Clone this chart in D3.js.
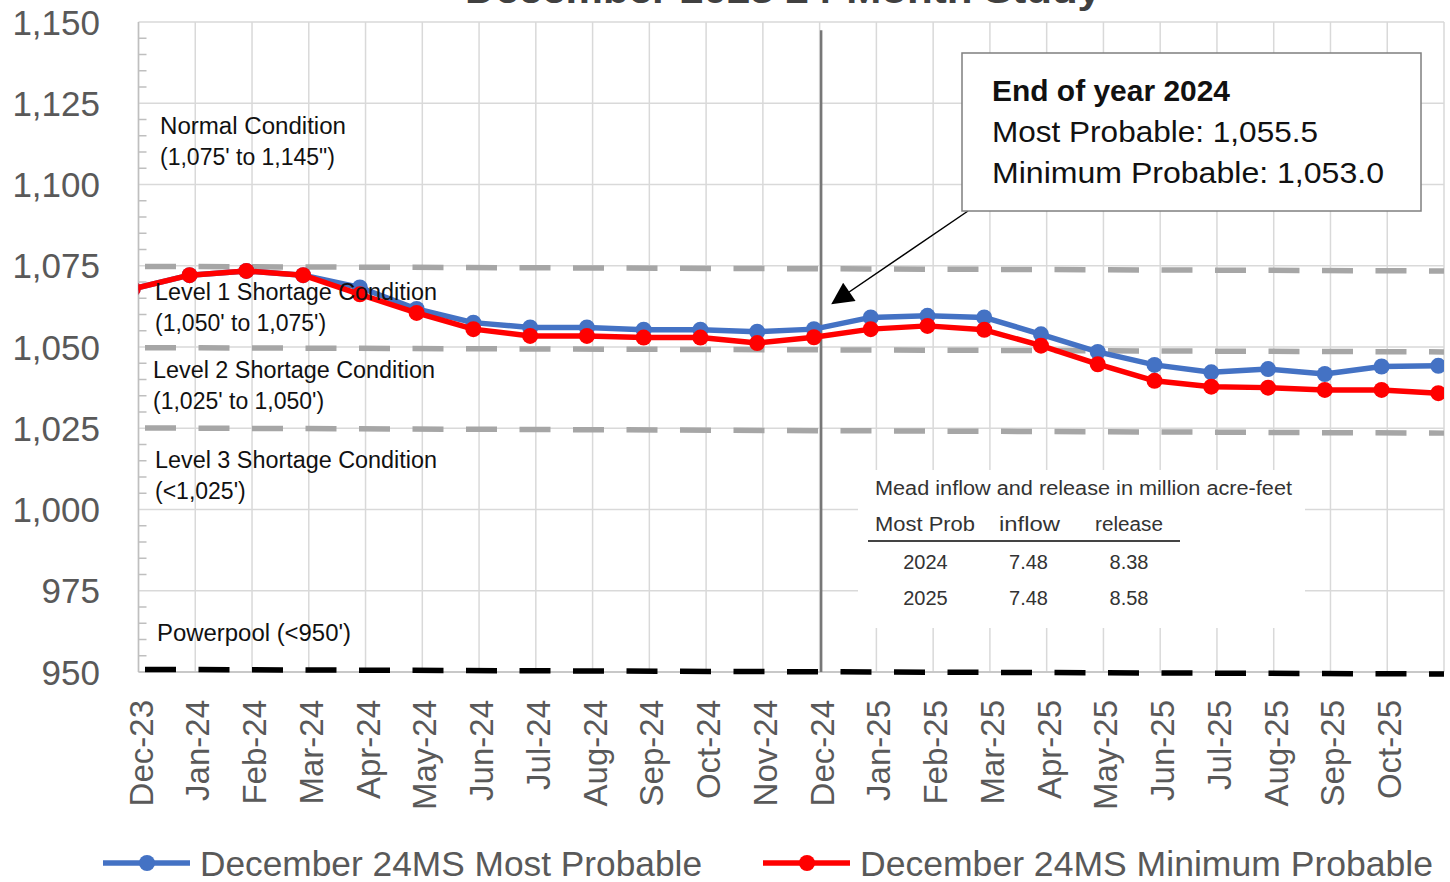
<!DOCTYPE html>
<html>
<head>
<meta charset="utf-8">
<script src="https://cdn.jsdelivr.net/npm/d3@7"></script>
<style>
  html, body { margin: 0; padding: 0; background: #fff; }
  svg { display: block; font-family: "Liberation Sans", Arial, sans-serif; }
</style>
</head>
<body>
<div id="chart"></div>
<script>
// month categories (first one is the start-of-study value, clipped at the left edge)
const months = ["Dec-23", "Jan-24", "Feb-24", "Mar-24", "Apr-24", "May-24", "Jun-24", "Jul-24",
  "Aug-24", "Sep-24", "Oct-24", "Nov-24", "Dec-24", "Jan-25", "Feb-25", "Mar-25", "Apr-25",
  "May-25", "Jun-25", "Jul-25", "Aug-25", "Sep-25", "Oct-25", "Nov-25"];
const tickLabels = months.slice(0, 23);

const mostProbable = [1067.9, 1072.1, 1073.4, 1072.1, 1068.3, 1061.7, 1057.5, 1056.0, 1056.0,
  1055.3, 1055.3, 1054.7, 1055.5, 1059.1, 1059.6, 1059.1, 1053.9, 1048.5, 1044.5, 1042.2,
  1043.2, 1041.7, 1044.0, 1044.2];
const minProbable = [1067.9, 1072.1, 1073.4, 1072.1, 1066.2, 1060.5, 1055.5, 1053.4, 1053.4,
  1052.9, 1052.9, 1051.2, 1053.0, 1055.5, 1056.5, 1055.3, 1050.4, 1044.7, 1039.6, 1037.8,
  1037.5, 1036.8, 1036.8, 1035.8];

const yTicks = [950, 975, 1000, 1025, 1050, 1075, 1100, 1125, 1150];

// shortage threshold lines, elevation at left and right end (as drawn)
const shortageStart = [1074.8, 1049.8, 1025.1];
const shortageEnd = [1073.4, 1048.5, 1023.5];
const powerpoolLine = [950.8, 949.4];

const zoneNames = ["Normal Condition", "Level 1 Shortage Condition", "Level 2 Shortage Condition",
  "Level 3 Shortage Condition", "Powerpool (<950')"];
const zoneRanges = ["(1,075' to 1,145\")", "(1,050' to 1,075')", "(1,025' to 1,050')", "(<1,025')", ""];

const calloutLines = ["End of year 2024", "Most Probable: 1,055.5", "Minimum Probable: 1,053.0"];

const tableTitle = "Mead inflow and release in million acre-feet";
const tableHeader = ["Most Prob", "inflow", "release"];
const tableYears = ["2024", "2025"];
const tableInflow = ["7.48", "7.48"];
const tableRelease = ["8.38", "8.58"];

const seriesNames = ["December 24MS Most Probable", "December 24MS Minimum Probable"];
const seriesColors = ["#4472C4", "#FF0000"];

const width = 1450, height = 882;
const plot = {left: 138.5, right: 1444, top: 22, bottom: 672};
const pointShift = -0.1;

const svg = d3.select("#chart").append("svg")
    .attr("width", width)
    .attr("height", height);

svg.append("rect").attr("width", width).attr("height", height).attr("fill", "#fff");

let x = d3.scaleLinear().domain([0, 23]).range([plot.left, plot.right]);
let y = d3.scaleLinear().domain([950, 1150]).range([plot.bottom, plot.top]);

// title, mostly above the visible area (as in the source image)
svg.append("text")
    .attr("x", 465).attr("y", 3)
    .attr("font-size", 36).attr("font-weight", "bold")
    .attr("fill", "#404040")
    .attr("textLength", 636).attr("lengthAdjust", "spacingAndGlyphs")
    .text("December 2023 24-Month Study");

// grid
const grid = svg.append("g");
grid.selectAll(".vg")
  .data(d3.range(0, 24))
  .enter().append("line")
    .attr("x1", d => x(d)).attr("x2", d => x(d))
    .attr("y1", plot.top).attr("y2", plot.bottom)
    .attr("stroke", "#d9d9d9").attr("stroke-width", 1.5);
grid.selectAll(".hg")
  .data(yTicks)
  .enter().append("line")
    .attr("x1", plot.left).attr("x2", plot.right)
    .attr("y1", d => y(d)).attr("y2", d => y(d))
    .attr("stroke", "#d9d9d9").attr("stroke-width", 1.5);

// minor ticks on the left axis
grid.selectAll(".mt")
  .data(d3.range(955, 1150, 5).filter(v => v % 25 !== 0))
  .enter().append("line")
    .attr("x1", plot.left).attr("x2", plot.left + 8)
    .attr("y1", d => y(d)).attr("y2", d => y(d))
    .attr("stroke", "#bfbfbf").attr("stroke-width", 1.5);

svg.append("line")
    .attr("x1", plot.left).attr("x2", plot.left)
    .attr("y1", plot.top).attr("y2", plot.bottom)
    .attr("stroke", "#bfbfbf").attr("stroke-width", 1.5);
svg.append("line")
    .attr("x1", plot.left).attr("x2", plot.right)
    .attr("y1", plot.bottom).attr("y2", plot.bottom)
    .attr("stroke", "#bfbfbf").attr("stroke-width", 1.5);

// y axis labels
svg.append("g").selectAll("text")
  .data(yTicks)
  .enter().append("text")
    .attr("x", 100).attr("y", d => y(d) + 12.5)
    .attr("text-anchor", "end")
    .attr("font-size", 35).attr("fill", "#595959")
    .text(d3.format(","));

// x axis labels
svg.append("g").selectAll("text")
  .data(tickLabels)
  .enter().append("text")
    .attr("transform", (d, i) => `translate(${x(i) + 14},700) rotate(-90)`)
    .attr("text-anchor", "end")
    .attr("font-size", 33).attr("fill", "#595959")
    .text(d => d);

// table background box (covers gridlines)
svg.append("rect")
    .attr("x", 858).attr("y", 470).attr("width", 447).attr("height", 158)
    .attr("fill", "#fff");

// shortage threshold dashed lines
svg.append("g").selectAll("line")
  .data(shortageStart)
  .enter().append("line")
    .attr("x1", x(0)).attr("x2", x(23))
    .attr("y1", d => y(d)).attr("y2", (d, i) => y(shortageEnd[i]))
    .attr("stroke", "#a6a6a6").attr("stroke-width", 5.5)
    .attr("stroke-dasharray", "31 22.5").attr("stroke-dashoffset", 47);

svg.append("line")
    .attr("x1", x(0)).attr("x2", x(23))
    .attr("y1", y(powerpoolLine[0])).attr("y2", y(powerpoolLine[1]))
    .attr("stroke", "#000").attr("stroke-width", 5.5)
    .attr("stroke-dasharray", "31 22.5").attr("stroke-dashoffset", 47);

// end of year marker line
svg.append("line")
    .attr("x1", x(12) + 1.5).attr("x2", x(12) + 1.5)
    .attr("y1", y(1147.5)).attr("y2", plot.bottom)
    .attr("stroke", "#777").attr("stroke-width", 2.5);

// series
svg.append("clipPath").attr("id", "plot-clip")
  .append("rect")
    .attr("x", plot.left).attr("y", plot.top)
    .attr("width", plot.right - plot.left).attr("height", plot.bottom - plot.top);

let line = d3.line()
    .x((d, i) => x(i + pointShift))
    .y(d => y(d));

const seriesG = svg.append("g").attr("clip-path", "url(#plot-clip)");
[mostProbable, minProbable].forEach((vals, s) => {
  seriesG.append("path")
      .attr("d", line(vals))
      .attr("fill", "none")
      .attr("stroke", seriesColors[s])
      .attr("stroke-width", 5.5)
      .attr("stroke-linejoin", "round");
  seriesG.selectAll(".m" + s)
    .data(vals)
    .enter().append("circle")
      .attr("cx", (d, i) => x(i + pointShift))
      .attr("cy", d => y(d))
      .attr("r", 8)
      .attr("fill", seriesColors[s]);
});

// zone labels
const zoneX = [160, 155, 153, 155, 157];
const zoneY = [134, 300, 378, 468, 641];
const zoneW = [186, 282, 282, 282, 194];
const zones = svg.append("g").attr("font-size", 23).attr("fill", "#111");
zoneNames.forEach((name, i) => {
  zones.append("text")
      .attr("x", zoneX[i]).attr("y", zoneY[i])
      .attr("textLength", zoneW[i]).attr("lengthAdjust", "spacingAndGlyphs")
      .text(name);
  if (zoneRanges[i]) {
    zones.append("text")
        .attr("x", zoneX[i]).attr("y", zoneY[i] + 31)
        .text(zoneRanges[i]);
  }
});

// callout box with arrow
svg.append("defs").append("marker")
    .attr("id", "arrowhead")
    .attr("viewBox", "0 0 10 10")
    .attr("refX", 9).attr("refY", 5)
    .attr("markerWidth", 26).attr("markerHeight", 22)
    .attr("markerUnits", "userSpaceOnUse")
    .attr("orient", "auto")
  .append("path")
    .attr("d", "M0,0 L10,5 L0,10 z")
    .attr("fill", "#000");

svg.append("line")
    .attr("x1", 968).attr("y1", 211)
    .attr("x2", 833).attr("y2", 303)
    .attr("stroke", "#000").attr("stroke-width", 1.5)
    .attr("marker-end", "url(#arrowhead)");

svg.append("rect")
    .attr("x", 962).attr("y", 53).attr("width", 459).attr("height", 158)
    .attr("fill", "#fff").attr("stroke", "#7f7f7f").attr("stroke-width", 1.5);

const calloutW = [238, 326, 392];
svg.append("g").selectAll("text")
  .data(calloutLines)
  .enter().append("text")
    .attr("x", 992).attr("y", (d, i) => 101 + i * 41)
    .attr("font-size", 29)
    .attr("font-weight", (d, i) => i === 0 ? "bold" : "normal")
    .attr("fill", "#111")
    .attr("textLength", (d, i) => calloutW[i]).attr("lengthAdjust", "spacingAndGlyphs")
    .text(d => d);

// inflow / release table
const table = svg.append("g").attr("font-size", 20).attr("fill", "#333");
table.append("text")
    .attr("x", 875).attr("y", 495)
    .attr("textLength", 417).attr("lengthAdjust", "spacingAndGlyphs")
    .text(tableTitle);
const headX = [875, 999, 1095];
const headW = [100, 61, 68];
tableHeader.forEach((h, i) => {
  table.append("text")
      .attr("x", headX[i]).attr("y", 531)
      .attr("textLength", headW[i]).attr("lengthAdjust", "spacingAndGlyphs")
      .text(h);
});
table.append("line")
    .attr("x1", 868).attr("x2", 1180)
    .attr("y1", 541).attr("y2", 541)
    .attr("stroke", "#444").attr("stroke-width", 2);
tableYears.forEach((yr, i) => {
  const ty = 569 + i * 36;
  table.append("text").attr("x", 925.5).attr("y", ty).attr("text-anchor", "middle").text(yr);
  table.append("text").attr("x", 1028.5).attr("y", ty).attr("text-anchor", "middle").text(tableInflow[i]);
  table.append("text").attr("x", 1129).attr("y", ty).attr("text-anchor", "middle").text(tableRelease[i]);
});

// legend
const legendX = [103, 763];
const legendW = [502, 573];
const legend = svg.append("g");
seriesNames.forEach((name, i) => {
  legend.append("line")
      .attr("x1", legendX[i]).attr("x2", legendX[i] + 87)
      .attr("y1", 863).attr("y2", 863)
      .attr("stroke", seriesColors[i]).attr("stroke-width", 5.5);
  legend.append("circle")
      .attr("cx", legendX[i] + 44).attr("cy", 863).attr("r", 8)
      .attr("fill", seriesColors[i]);
  legend.append("text")
      .attr("x", legendX[i] + 97).attr("y", 876)
      .attr("font-size", 35).attr("fill", "#595959")
      .attr("textLength", legendW[i]).attr("lengthAdjust", "spacingAndGlyphs")
      .text(name);
});
</script>
</body>
</html>
